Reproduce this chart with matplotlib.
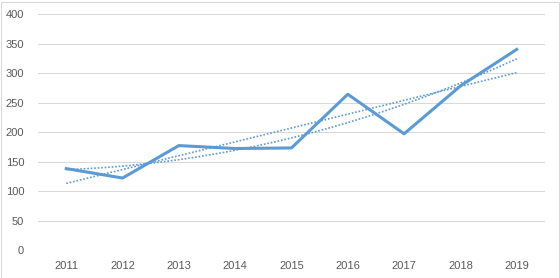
import matplotlib.pyplot as plt
from matplotlib.patches import Rectangle
import numpy as np

years = ['2011', '2012', '2013', '2014', '2015', '2016', '2017', '2018', '2019']
values = [138, 122, 177, 172, 173, 264, 197, 278, 340]
yticks = [0, 50, 100, 150, 200, 250, 300, 350, 400]

plt.rcParams['font.family'] = ['Liberation Sans', 'DejaVu Sans']

fig = plt.figure(figsize=(5.6, 2.78), dpi=100)
ax = fig.add_axes([0.068, 0.1007, 0.905, 0.8489])

x = np.arange(len(years))
blue = '#5B9BD5'

# trendlines: linear and 2nd order polynomial, like Excel
lin = np.polyval(np.polyfit(x, values, 1), x)
xs = np.linspace(0, len(years) - 1, 100)
poly = np.polyval(np.polyfit(x, values, 2), xs)
ax.plot(x, lin, color=blue, lw=1.2, ls=(0, (1, 1.1)), zorder=3)
ax.plot(xs, poly, color=blue, lw=1.2, ls=(0, (1, 1.1)), zorder=3)

ax.plot(x, values, color=blue, lw=2.2, solid_joinstyle='round', zorder=4)

ax.set_xlim(-0.5, len(years) - 0.5)
ax.set_ylim(0, 400)
ax.set_yticks(yticks)
ax.set_xticks(x)
ax.set_xticklabels(years)
ax.grid(axis='y', color='#D9D9D9', lw=0.75)
ax.set_axisbelow(True)
for s in ax.spines.values():
    s.set_visible(False)
ax.tick_params(length=0, labelsize=8, labelcolor='#595959')
ax.tick_params(axis='y', pad=10)
ax.tick_params(axis='x', pad=8)

fig.patches.append(Rectangle((0.5 / 560, 0.5 / 278), 1 - 2 / 560, 1 - 2 / 278,
                             transform=fig.transFigure, fill=False,
                             edgecolor='#D9D9D9', lw=0.75))

fig.savefig('out.png', dpi=100)
